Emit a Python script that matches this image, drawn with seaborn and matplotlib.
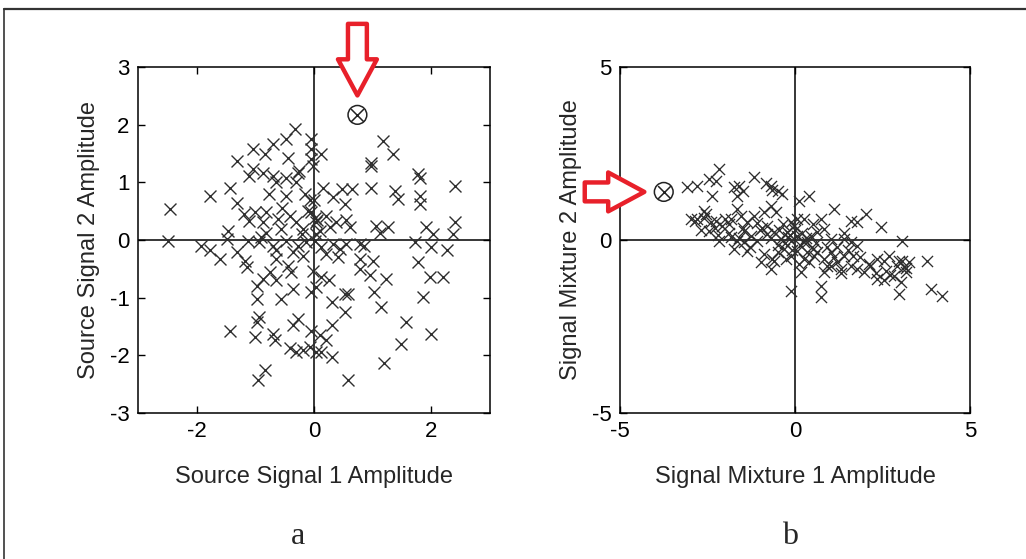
import matplotlib
matplotlib.use("Agg")
import matplotlib.pyplot as plt
import seaborn as sns
import pandas as pd

# ---- Panel a: source signals ----
src1 = [-0.33, -0.47, -0.05, -0.70, -1.04, -0.84, -0.44, -0.05, 0.12, -0.05, -1.32, 1.18, 1.35, 0.98, 0.98,
        1.77, 1.80, -1.04, -0.87, -1.10, -0.70, -0.27, -0.47, -0.02, -0.64, -0.30, -1.44, -1.78, -1.32, -2.46,
        -0.76, -0.47, -0.16, -0.07, 0.47, 0.64, 0.98, 1.38, 1.43, 1.80, 1.80, 2.40, 0.32, 0.52, -1.01,
        -0.81, -0.61, -1.10, -0.87, -0.41, -0.05, 0.01, 0.04, 0.21, 0.38, 0.61, 0.27, -0.30, -0.19, 1.26,
        1.12, 1.91, 2.03, 2.40, 2.37, -1.47, -0.81, -0.56, -1.49, -2.49, -1.92, -1.78, -1.61, -1.32, -1.13,
        -0.93, -0.70, -0.64, -0.47, -0.27, -0.13, 0.01, 0.04, 0.12, 0.32, 0.55, 0.78, 0.86, 0.41, 0.78,
        1.00, 1.72, 2.00, 2.26, 1.77, -1.18, -1.15, -0.64, -0.19, -0.39, -0.02, 0.12, 0.78, 1.22, 1.97,
        2.20, -0.98, -0.87, -0.64, -0.36, 0.04, -0.98, -0.56, 0.52, 0.58, 1.03, 0.30, 0.52, 1.15, 1.86,
        -0.93, -0.98, -1.44, -1.01, -0.70, -0.67, -0.36, -0.27, -0.05, 0.10, 0.30, 0.21, -0.41, -0.30, -0.19,
        -0.07, 0.04, 0.12, 0.30, 1.57, 1.49, 2.00, 1.20, -0.84, -0.95, 0.58,
        -0.10, 0.05, -0.20, 0.10, -0.35, 0.20, -0.55, 0.00, -0.90, -1.20, -0.25, 0.15, 0.55, 1.05, -0.45,
        0.45, -0.75, 0.95, -0.05, 0.25]
src2 = [1.92, 1.75, 1.75, 1.66, 1.57, 1.49, 1.43, 1.57, 1.49, 1.40, 1.37, 1.72, 1.49, 1.34, 1.28,
        1.14, 1.08, 1.23, 1.17, 1.11, 1.11, 1.17, 1.08, 1.29, 1.00, 1.00, 0.91, 0.77, 0.65, 0.54,
        0.80, 0.77, 0.80, 0.70, 0.88, 0.88, 0.91, 0.85, 0.71, 0.77, 0.62, 0.94, 0.74, 0.62, 0.48,
        0.48, 0.36, 0.33, 0.31, 0.42, 0.48, 0.39, 0.31, 0.42, 0.31, 0.22, 0.22, 0.31, 0.19, 0.22,
        0.13, 0.22, 0.10, 0.31, 0.10, 0.16, 0.13, 0.19, 0.02, -0.01, -0.10, -0.18, -0.33, -0.21, -0.01,
        -0.04, -0.10, -0.18, -0.01, -0.10, -0.04, -0.01, 0.10, -0.13, -0.07, -0.07, -0.07, -0.10, -0.30, -0.33,
        -0.36, -0.04, -0.13, -0.18, -0.39, -0.36, -0.47, -0.33, -0.27, -0.56, -0.53, -0.65, -0.50, -0.67, -0.65,
        -0.65, -0.79, -0.67, -0.70, -0.85, -0.82, -1.02, -1.02, -0.93, -0.93, -0.90, -1.08, -1.25, -1.16, -0.99,
        -1.34, -1.42, -1.57, -1.68, -1.63, -1.74, -1.48, -1.37, -1.57, -1.65, -1.48, -1.74, -1.88, -1.94, -1.91,
        -1.86, -1.94, -1.94, -2.03, -1.42, -1.80, -1.63, -2.14, -2.26, -2.43, -2.43,
        0.50, 0.35, 0.10, 0.15, -0.20, -0.25, 0.55, 0.70, 0.05, 0.45, 1.20, 0.90, 0.35, 0.25, -0.45,
        -0.15, -0.55, -0.60, -0.90, -0.70]

# ---- Panel b: signal mixtures ----
mix1 = [-3.08, -2.79, -2.46, -2.17, -2.27, -2.36, -1.74, -1.60, -1.65, -1.50, -1.17, -0.84, -0.70, -0.50, -0.36,
        -0.65, 0.40, 0.11, -2.98, -2.79, -2.60, -2.41, -2.27, -2.08, -2.46, -2.17, -1.84, -1.65, -1.55, -1.36,
        -1.17, -0.89, -0.70, -0.55, -0.12, -0.03, 0.26, 0.73, 1.11, 1.78, 2.02, 2.45, 1.40, 3.07, -1.84,
        -1.65, -1.46, -1.27, -1.08, -0.79, -0.60, -0.41, -0.22, -0.12, 0.07, 0.26, 0.45, 0.64, 0.83, 1.02,
        1.40, 1.59, 1.78, -1.74, -1.36, -0.98, -0.70, -0.50, -0.31, -0.12, 0.07, 0.26, 0.40, 0.64, 0.83,
        1.02, 1.21, 1.40, 1.59, 1.78, 1.97, 0.83, 1.02, 0.73, 0.73, -0.12, 0.16, 2.35, 2.54, 2.69,
        2.35, 2.54, 2.83, 2.97, 3.02, 3.11, 3.16, 3.25, 3.78, 3.88, 4.21, 2.97, 3.16,
        0.00, -0.20, 0.15, -0.35, 0.30, -0.50, 0.50, -0.80, -1.00, 1.20, -0.10, 0.05, -2.60, -1.90, -0.95,
        0.55, 1.30, 2.15, -0.30, 0.90, -1.45, 0.35, -0.65, 1.65, 2.70,
        -2.85, -2.55, -2.30, -2.00, -2.70, -1.90, -1.50, -1.30, -1.10, -0.90, -0.60, -0.45, -0.25, -0.15, -0.70,
        -1.60, -2.20, 0.20, 0.35, 0.60, 0.90, 1.10, 1.30, 1.50, 2.10, 2.30, 2.60, 2.90, 1.85, 0.50,
        1.60, 0.10, 3.05]
mix2 = [1.52, 1.57, 1.76, 2.05, 1.71, 1.28, 1.52, 1.57, 1.28, 1.42, 1.81, 1.66, 1.57, 1.42, 1.33,
        1.45, 1.28, 1.13, 0.61, 0.61, 0.65, 0.51, 0.56, 0.41, 0.27, -0.02, 0.61, 0.89, 0.70, 0.51,
        0.70, 0.80, 0.99, 0.80, 0.51, 0.41, 0.61, 0.61, 0.89, 0.51, 0.75, 0.37, 0.20, -0.02, 0.08,
        -0.02, -0.07, 0.13, -0.02, 0.17, 0.22, 0.03, 0.22, -0.02, 0.13, -0.07, 0.13, 0.22, 0.32, 0.03,
        0.03, -0.07, -0.16, -0.26, -0.31, -0.64, -0.84, -0.36, -0.26, -0.45, -0.31, -0.55, -0.64, -0.36, -0.55,
        -0.36, -0.64, -0.45, -0.74, -0.84, -0.93, -0.93, -0.74, -1.32, -1.65, -1.46, -0.93, -0.55, -0.60, -0.45,
        -1.13, -1.17, -1.03, -1.56, -1.22, -0.79, -0.93, -0.65, -0.60, -1.41, -1.61, -0.60, -0.80,
        0.30, 0.10, -0.15, 0.45, 0.05, -0.15, -0.25, 0.40, 0.30, -0.20, -0.30, 0.60, 0.85, 0.45, 0.35,
        -0.45, -0.85, -0.75, -0.10, -0.20, 0.25, -0.05, -0.55, -0.45, -1.00,
        0.55, 0.75, 0.35, 0.60, 0.30, 0.20, 0.35, -0.20, 0.50, -0.40, -0.60, 0.30, -0.55, 0.15, 0.05,
        0.05, 0.15, 0.20, -0.35, -0.10, -0.75, -0.50, -0.95, -0.30, -0.70, -0.95, -0.90, -0.75, -0.50, 0.45,
        0.55, -0.70, -0.60]

# highlighted points (circled)
special_a = (0.74, 2.17)
special_b = (-3.75, 1.39)

W, H, DPI = 1026, 559, 100
sns.set_style("white")
plt.rcParams["font.family"] = ["Liberation Sans", "DejaVu Sans"]
plt.rcParams.update({
    "axes.unicode_minus": False,
    "xtick.direction": "in", "ytick.direction": "in",
    "xtick.top": True, "ytick.right": True,
    "xtick.major.size": 5, "ytick.major.size": 5,
    "xtick.major.width": 1.0, "ytick.major.width": 1.0,
    "xtick.bottom": True, "ytick.left": True,
})

fig = plt.figure(figsize=(W / DPI, H / DPI), dpi=DPI)
fig.patch.set_facecolor("white")
ax_a = fig.add_axes([138 / W, 1 - 413 / H, 352 / W, 346 / H])
ax_b = fig.add_axes([620 / W, 1 - 413 / H, 350 / W, 346 / H])

mcolor = "#2e2e2e"
df_a = pd.DataFrame({"s1": src1, "s2": src2})
df_b = pd.DataFrame({"m1": mix1, "m2": mix2})

for ax in (ax_a, ax_b):
    ax.axhline(0, color="black", lw=1.1, zorder=1)
    ax.axvline(0, color="black", lw=1.1, zorder=1)

sns.scatterplot(data=df_a, x="s1", y="s2", marker="x", color=mcolor, s=74, linewidth=1.0,
                ax=ax_a, zorder=3, legend=False)
sns.scatterplot(data=df_b, x="m1", y="m2", marker="x", color=mcolor, s=64, linewidth=0.95,
                ax=ax_b, zorder=3, legend=False)

red = "#e8202a"
for ax, pt, off in ((ax_a, special_a, (0, 91)), (ax_b, special_b, (-79, 0))):
    ax.scatter([pt[0]], [pt[1]], marker="o", s=13.5 ** 2, facecolors="none",
               edgecolors="#222222", linewidths=1.1, zorder=4)
    ax.scatter([pt[0]], [pt[1]], marker="x", s=9.2 ** 2, color="#222222",
               linewidths=1.1, zorder=4)
    ax.annotate("", xy=pt, xycoords="data", xytext=off, textcoords="offset pixels",
                arrowprops=dict(arrowstyle="simple,head_length=0.65,head_width=0.7,tail_width=0.34",
                                mutation_scale=40, facecolor="white", edgecolor=red, lw=3.2,
                                shrinkA=0, shrinkB=14),
                annotation_clip=False, zorder=5)

ax_a.set_xlim(-3, 3)
ax_a.set_ylim(-3, 3)
ax_a.set_xticks([-2, 0, 2])
ax_a.set_yticks([-3, -2, -1, 0, 1, 2, 3])
ax_b.set_xlim(-5, 5)
ax_b.set_ylim(-5, 5)
ax_b.set_xticks([-5, 0, 5])
ax_b.set_yticks([-5, 0, 5])

lab_fs = 17
ax_a.set_xlabel("Source Signal 1 Amplitude", fontsize=lab_fs, labelpad=17)
ax_a.set_ylabel("Source Signal 2 Amplitude", fontsize=lab_fs, labelpad=7)
ax_b.set_xlabel("Signal Mixture 1 Amplitude", fontsize=lab_fs, labelpad=17)
ax_b.set_ylabel("Signal Mixture 2 Amplitude", fontsize=lab_fs, labelpad=7)

for ax in (ax_a, ax_b):
    ax.tick_params(labelsize=16, pad=6, colors="black")
    for sp in ax.spines.values():
        sp.set_visible(True)
        sp.set_color("black")
        sp.set_linewidth(1.1)

fig.text(298 / W, 1 - 536 / H, "a", family=["Liberation Serif", "DejaVu Serif"], fontsize=23,
         ha="center", va="center")
fig.text(790 / W, 1 - 536 / H, "b", family=["Liberation Serif", "DejaVu Serif"], fontsize=23,
         ha="center", va="center")

# page frame (top and left edges)
fig.add_artist(plt.Line2D([4 / W, 1], [1 - 9 / H, 1 - 9 / H], transform=fig.transFigure,
                          color="#333333", lw=1.6))
fig.add_artist(plt.Line2D([4 / W, 4 / W], [0, 1 - 9 / H], transform=fig.transFigure,
                          color="#333333", lw=1.2))

fig.savefig("out.png", dpi=DPI, facecolor="white")
